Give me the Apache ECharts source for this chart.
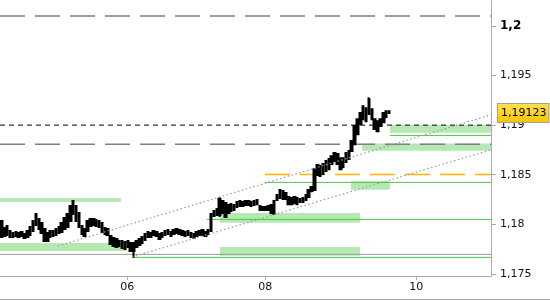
<!DOCTYPE html>
<html><head><meta charset="utf-8">
<script src="https://cdn.jsdelivr.net/npm/echarts@6/dist/echarts.min.js"></script>
<style>html,body{margin:0;padding:0;background:#fff}#c{width:550px;height:300px}</style>
</head><body><div id="c"></div>
<script>
// ---- data ----
const slotCount = 171;               // hourly slots on the time axis (incl. empty future)
const opens = [
1.18032,1.17881,1.17982,1.17931,1.17871,1.17921,1.17871,1.17921,1.17861,1.17871,
1.17891,1.17931,1.17992,1.18052,1.18012,1.17951,1.17830,1.17931,1.17881,1.17891,
1.17911,1.17921,1.17951,1.17972,1.18032,1.18234,1.18183,1.18113,1.17982,1.17881,
1.17931,1.17982,1.18052,1.17982,1.18032,1.18012,1.17962,1.17951,1.17881,1.17861,
1.17770,1.17830,1.17830,1.17750,1.17830,1.17810,1.17730,1.17770,1.17790,1.17810,
1.17840,1.17871,1.17911,1.17891,1.17921,1.17901,1.17871,1.17891,1.17901,1.17921,
1.17901,1.17911,1.17941,1.17931,1.17921,1.17891,1.17911,1.17901,1.17881,1.17891,
1.17891,1.17921,1.17901,1.17931,1.18082,1.18093,1.18093,1.18234,1.18214,1.18113,
1.18203,1.18143,1.18173,1.18183,1.18224,1.18193,1.18234,1.18224,1.18193,1.18203,
1.18183,1.18173,1.18143,1.18183,1.18113,1.18103,1.18244,1.18264,1.18335,1.18254,
1.18274,1.18203,1.18274,1.18264,1.18224,1.18224,1.18244,1.18274,1.18335,1.18345,
1.18597,1.18486,1.18506,1.18536,1.18556,1.18607,1.18637,1.18708,1.18667,1.18577,
1.18627,1.18657,1.18738,1.18808,1.18909,1.19010,1.19060,1.19171,1.19111,1.19161,
1.19060,1.19040,1.18990,1.19030,1.19081,1.19141];
const closes = [
1.17871,1.17962,1.17891,1.17871,1.17911,1.17881,1.17911,1.17881,1.17901,1.17931,
1.17972,1.18032,1.18103,1.17951,1.17911,1.17830,1.17911,1.17871,1.17931,1.17951,
1.17972,1.18012,1.18062,1.18103,1.18183,1.18103,1.18032,1.17972,1.17901,1.17951,
1.18032,1.18052,1.17992,1.18042,1.17972,1.17921,1.17901,1.17891,1.17800,1.17780,
1.17851,1.17780,1.17760,1.17820,1.17770,1.17730,1.17810,1.17830,1.17851,1.17871,
1.17901,1.17921,1.17871,1.17931,1.17881,1.17851,1.17911,1.17931,1.17941,1.17881,
1.17941,1.17951,1.17901,1.17891,1.17881,1.17931,1.17871,1.17861,1.17921,1.17931,
1.17941,1.17881,1.17941,1.18103,1.18133,1.18153,1.18254,1.18113,1.18072,1.18193,
1.18133,1.18193,1.18224,1.18234,1.18183,1.18234,1.18193,1.18183,1.18234,1.18244,
1.18143,1.18143,1.18173,1.18143,1.18193,1.18234,1.18294,1.18345,1.18254,1.18314,
1.18203,1.18264,1.18214,1.18203,1.18254,1.18264,1.18294,1.18345,1.18375,1.18556,
1.18496,1.18587,1.18607,1.18637,1.18657,1.18687,1.18718,1.18607,1.18556,1.18667,
1.18718,1.18738,1.18839,1.18990,1.19060,1.19121,1.19191,1.19040,1.19262,1.19060,
1.18960,1.18939,1.19060,1.19121,1.19141,1.19123];
const lows = [
1.17861,1.17871,1.17881,1.17861,1.17861,1.17871,1.17861,1.17871,1.17851,1.17861,
1.17881,1.17921,1.17982,1.17941,1.17901,1.17820,1.17820,1.17861,1.17871,1.17881,
1.17901,1.17911,1.17941,1.17962,1.18022,1.18093,1.18022,1.17962,1.17891,1.17871,
1.17921,1.17972,1.17982,1.17972,1.17962,1.17911,1.17891,1.17881,1.17790,1.17770,
1.17760,1.17770,1.17750,1.17740,1.17760,1.17720,1.17659,1.17760,1.17780,1.17800,
1.17830,1.17861,1.17861,1.17881,1.17871,1.17840,1.17861,1.17881,1.17891,1.17871,
1.17891,1.17901,1.17891,1.17881,1.17871,1.17881,1.17861,1.17851,1.17871,1.17881,
1.17881,1.17871,1.17891,1.17921,1.18072,1.18082,1.18072,1.18103,1.18062,1.18103,
1.18123,1.18133,1.18163,1.18173,1.18173,1.18183,1.18183,1.18173,1.18183,1.18193,
1.18133,1.18133,1.18133,1.18133,1.18103,1.18093,1.18234,1.18254,1.18244,1.18244,
1.18193,1.18193,1.18203,1.18193,1.18214,1.18214,1.18234,1.18264,1.18324,1.18335,
1.18486,1.18476,1.18496,1.18526,1.18546,1.18597,1.18627,1.18597,1.18546,1.18566,
1.18617,1.18647,1.18728,1.18798,1.18899,1.19000,1.19050,1.19030,1.19101,1.19050,
1.18950,1.18929,1.18980,1.19020,1.19070,1.19111];
const highs = [
1.18042,1.17972,1.17992,1.17941,1.17921,1.17931,1.17921,1.17931,1.17911,1.17941,
1.17982,1.18042,1.18113,1.18062,1.18022,1.17962,1.17921,1.17941,1.17941,1.17962,
1.17982,1.18022,1.18072,1.18113,1.18193,1.18244,1.18193,1.18123,1.17992,1.17962,
1.18042,1.18062,1.18062,1.18052,1.18042,1.18022,1.17972,1.17962,1.17891,1.17871,
1.17861,1.17840,1.17840,1.17830,1.17840,1.17820,1.17820,1.17840,1.17861,1.17881,
1.17911,1.17931,1.17921,1.17941,1.17931,1.17911,1.17921,1.17941,1.17951,1.17931,
1.17951,1.17962,1.17951,1.17941,1.17931,1.17941,1.17921,1.17911,1.17931,1.17941,
1.17951,1.17931,1.17951,1.18113,1.18143,1.18163,1.18274,1.18244,1.18224,1.18203,
1.18214,1.18203,1.18234,1.18244,1.18234,1.18244,1.18244,1.18234,1.18244,1.18254,
1.18193,1.18183,1.18183,1.18193,1.18203,1.18244,1.18304,1.18355,1.18345,1.18324,
1.18284,1.18274,1.18284,1.18274,1.18264,1.18274,1.18304,1.18355,1.18385,1.18566,
1.18607,1.18597,1.18617,1.18647,1.18667,1.18697,1.18728,1.18718,1.18677,1.18677,
1.18728,1.18748,1.18849,1.19000,1.19070,1.19131,1.19201,1.19181,1.19282,1.19171,
1.19070,1.19050,1.19070,1.19131,1.19151,1.19151];
const lastPrice = 1.19123;

const yMin = 1.17478, yMax = 1.20262;
const yTicks = [1.175, 1.18, 1.185, 1.19, 1.195, 1.2];
const xTickPos = [43.84, 91.9, 144.5];
const xTickLabels = ['06', '08', '10'];

// horizontal levels spanning the whole chart
const greyDashLevels = [1.20101, 1.18808];
const blackDashLevel = 1.19;
const greySolidLevel = 1.17696;
// levels starting at a given slot: [startSlot, value]
const orangeLevel = [91.8, 1.18503];
const greenLevels = [[91.8, 1.18422], [135.3, 1.18896], [71.6, 1.18049], [45.5, 1.17666]];
// zones: [startSlot, endSlot, low, high]
const zones = [
  [-0.5, 41.6, 1.18224, 1.18264],
  [-0.5, 43.7, 1.17730, 1.17810],
  [76.1, 124.9, 1.18015, 1.18113],
  [76.1, 124.9, 1.17682, 1.17770],
  [121.7, 135.3, 1.18348, 1.18435],
  [135.3, 170.5, 1.18922, 1.19000],
  [125.6, 170.5, 1.18741, 1.18815]
];
// trend channel lines: [[slot, value], [slot, value]]
const trendUpper = [[19.7, 1.17780], [170.5, 1.19104]];
const trendLower = [[45.5, 1.17669], [170.5, 1.18751]];

// ---- chart ----
const FONT = 'DejaVu Sans';
const xEnd = slotCount - 0.5;
const categories = Array.from({length: slotCount}, (_, i) => String(i));
const candleData = opens.map((o, i) => [o, closes[i], lows[i], highs[i]]);

function levelSeries(points, color, type, width, z) {
  return {
    type: 'line', xAxisIndex: 1, yAxisIndex: 0, data: points,
    showSymbol: false, symbol: 'none', silent: true, z: z || 2,
    lineStyle: {color: color, type: type, width: width}, animation: false
  };
}

const series = [];
// zones + price label carrier
series.push({
  type: 'line', xAxisIndex: 1, yAxisIndex: 0, data: [], clip: false, z: 1, silent: true,
  markArea: {
    silent: true, itemStyle: {color: '#b6e8b2'},
    data: zones.map(z => [{coord: [z[0], z[3]]}, {coord: [z[1], z[2]]}])
  },
  markLine: {
    silent: true, symbol: 'none', animation: false, precision: 5,
    lineStyle: {color: 'rgba(0,0,0,0)', width: 0},
    data: [{yAxis: lastPrice}],
    label: {
      show: true, position: 'end', distance: 7,
      formatter: () => String(lastPrice).replace('.', ','),
      color: '#000', fontFamily: FONT, fontSize: 11,
      backgroundColor: {
        type: 'linear', x: 0, y: 0, x2: 0, y2: 1,
        colorStops: [{offset: 0, color: '#ffe34d'}, {offset: 1, color: '#f7c400'}]
      },
      borderColor: '#a0a0a0', borderWidth: 1, padding: [4, 2, 3, 3]
    }
  }
});
greyDashLevels.forEach(v => series.push(levelSeries([[-0.5, v], [xEnd, v]], '#808080', [25, 10], 1.5)));
series.push(levelSeries([[-0.5, blackDashLevel], [xEnd, blackDashLevel]], '#000', [5, 4], 1));
series.push(levelSeries([[-0.5, greySolidLevel], [xEnd, greySolidLevel]], '#9a9a9a', 'solid', 1));
series.push(levelSeries([[orangeLevel[0], orangeLevel[1]], [xEnd, orangeLevel[1]]], '#ffb300', [25, 10], 1.5));
greenLevels.forEach(g => series.push(levelSeries([[g[0], g[1]], [xEnd, g[1]]], '#4cc94c', 'solid', 1)));
series.push(levelSeries(trendUpper, '#9a9a9a', [1.5, 2.5], 1.2, 4));
series.push(levelSeries(trendLower, '#9a9a9a', [1.5, 2.5], 1.2, 4));
series.push({
  type: 'candlestick', xAxisIndex: 0, yAxisIndex: 0, data: candleData, z: 3,
  barWidth: 2, barMinWidth: 2, silent: true, animation: false,
  itemStyle: {color: '#000', color0: '#000', borderColor: '#000', borderColor0: '#000', borderWidth: 2}
});

const chart = echarts.init(document.getElementById('c'), null, {renderer: 'canvas'});
chart.setOption({
  animation: false,
  backgroundColor: '#fff',
  grid: {left: 0, right: 59, top: 0, bottom: 24, containLabel: false},
  xAxis: [
    {type: 'category', data: categories, show: false, boundaryGap: true},
    {
      type: 'value', min: -0.5, max: xEnd, position: 'bottom',
      splitLine: {show: false},
      axisLine: {show: true, onZero: false, lineStyle: {color: '#aaaaaa'}},
      axisTick: {show: true, customValues: xTickPos, length: 4, lineStyle: {color: '#aaaaaa'}},
      axisLabel: {
        customValues: xTickPos, margin: 6, color: '#111', fontFamily: FONT, fontSize: 11,
        formatter: v => {
          let best = 0;
          xTickPos.forEach((p, i) => { if (Math.abs(p - v) < Math.abs(xTickPos[best] - v)) best = i; });
          return xTickLabels[best];
        }
      }
    }
  ],
  yAxis: [{
    type: 'value', position: 'right', min: yMin, max: yMax, scale: true,
    splitLine: {show: false},
    axisLine: {show: true, onZero: false, lineStyle: {color: '#aaaaaa'}},
    axisTick: {show: true, customValues: yTicks, length: 5, lineStyle: {color: '#aaaaaa'}},
    axisLabel: {
      customValues: yTicks, margin: 9, color: '#111', fontFamily: FONT, fontSize: 11,
      formatter: v => {
        const s = String(+v.toFixed(5)).replace('.', ',');
        return Math.abs(v - 1.2) < 1e-9 ? '{b|' + s + '}' : s;
      },
      rich: {b: {fontWeight: 'bold', fontFamily: FONT, fontSize: 12, color: '#000'}}
    }
  }],
  graphic: [{
    type: 'line', silent: true,
    shape: {x1: 0, y1: 299.5, x2: 550, y2: 299.5},
    style: {stroke: '#aaaaaa', lineWidth: 1}
  }],
  series: series
});
</script></body></html>
